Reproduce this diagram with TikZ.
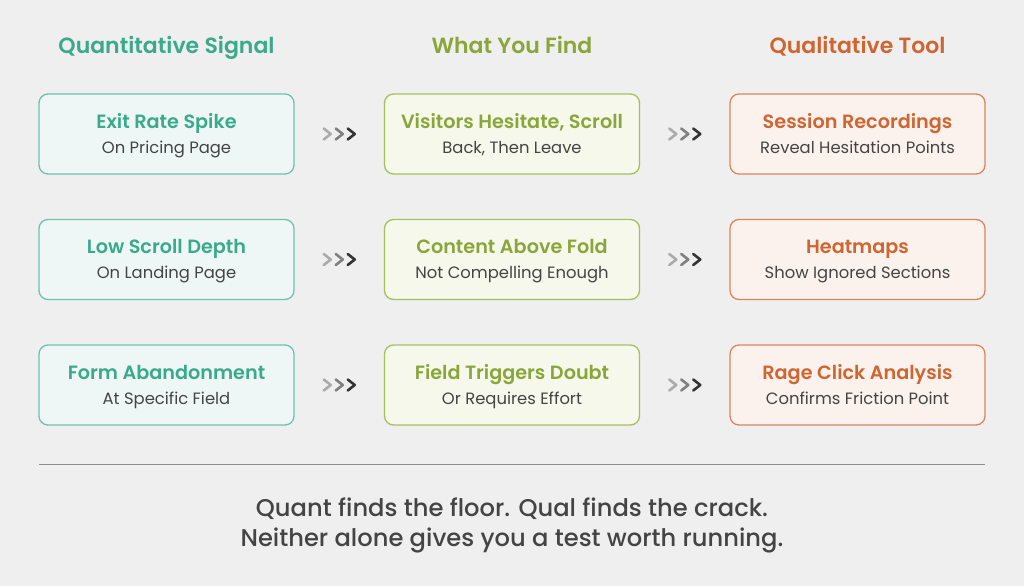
\documentclass[tikz,border=0pt]{standalone}
\usepackage{fontspec}
\setmainfont{Poppins}
\newfontfamily\semib{Poppins SemiBold}
\newfontfamily\medi{Poppins Medium}
\usetikzlibrary{calc}
\definecolor{bg}{HTML}{EFEFEF}
\definecolor{tealT}{HTML}{3AAA8C}
\definecolor{tealB}{HTML}{6CC3AD}
\definecolor{tealF}{HTML}{EEF7F5}
\definecolor{oliveT}{HTML}{8AA63A}
\definecolor{oliveB}{HTML}{A9BE5C}
\definecolor{oliveF}{HTML}{F6F8EC}
\definecolor{oranT}{HTML}{CF6530}
\definecolor{oranB}{HTML}{DA8560}
\definecolor{oranF}{HTML}{FBF2EE}
\definecolor{txt}{HTML}{444444}
\tikzset{
  card/.style={draw, line width=1.3pt, rounded corners=9pt, minimum width=255pt, minimum height=80pt, inner sep=0pt},
  tcard/.style={card, draw=tealB, fill=tealF},
  ocard/.style={card, draw=oliveB, fill=oliveF},
  rcard/.style={card, draw=oranB, fill=oranF},
  hdr/.style={font=\semib\fontsize{22}{26}\selectfont, anchor=base},
  ttl/.style={font=\semib\fontsize{19.2}{23}\selectfont, anchor=base},
  sub/.style={font=\fontsize{16.4}{20}\selectfont, text=txt, anchor=base},
  foot/.style={font=\medi\fontsize{24.2}{28}\selectfont, text=txt, anchor=base},
  chev/.style={line width=2.6pt, line cap=round, line join=round}
}
\newcommand{\chevrons}[1]{%
  \foreach \dx/\cc in {-12/black!33, 0/black!50, 12/black!80}{
    \draw[chev, draw=\cc] ($(#1)+(\dx-3.5,-5.5)$) -- ($(#1)+(\dx+3.5,0)$) -- ($(#1)+(\dx-3.5,5.5)$);
  }}
\begin{document}
\begin{tikzpicture}[x=1pt,y=-1pt]
\fill[bg] (0,0) rectangle (1024,586);
\useasboundingbox (0,0) rectangle (1024,586);
% headers
\node[hdr, text=tealT] (h1) at (166.5,54) {Quantitative Signal};
\node[hdr, text=oliveT] (h2) at (512,54) {What You Find};
\node[hdr, text=oranT] (h3) at (857.5,54) {Qualitative Tool};
% cards
\foreach \r/\y in {1/134, 2/259.5, 3/385}{
  \node[tcard] (a\r) at (166.5,\y) {};
  \node[ocard] (b\r) at (512,\y) {};
  \node[rcard] (c\r) at (857.5,\y) {};
}
% texts
\newcommand{\cardtext}[4]{%
  \node[ttl, text=#2] (#1t) at ($(#1)+(0,-6)$) {#3};
  \node[sub] (#1s) at ($(#1)+(0,19)$) {#4};}
\cardtext{a1}{tealT}{Exit Rate Spike}{On Pricing Page}
\cardtext{a2}{tealT}{Low Scroll Depth}{On Landing Page}
\cardtext{a3}{tealT}{Form Abandonment}{At Specific Field}
\cardtext{b1}{oliveT}{Visitors Hesitate, Scroll}{Back, Then Leave}
\cardtext{b2}{oliveT}{Content Above Fold}{Not Compelling Enough}
\cardtext{b3}{oliveT}{Field Triggers Doubt}{Or Requires Effort}
\cardtext{c1}{oranT}{Session Recordings}{Reveal Hesitation Points}
\cardtext{c2}{oranT}{Heatmaps}{Show Ignored Sections}
\cardtext{c3}{oranT}{Rage Click Analysis}{Confirms Friction Point}
% chevrons
\foreach \r in {1,2,3}{
  \coordinate (m\r) at ($(a\r.east)!0.5!(b\r.west)$);
  \coordinate (n\r) at ($(b\r.east)!0.5!(c\r.west)$);
  \chevrons{m\r}
  \chevrons{n\r}
}
% divider
\coordinate (l1) at (39,464);
\coordinate (l2) at (985,464);
\draw[black!45, line width=1pt] (l1) -- (l2);
% footer
\node[foot] (f1) at (512,516) {Quant finds the floor. Qual finds the crack.};
\node[foot] (f2) at (512,546) {Neither alone gives you a test worth running.};
\end{tikzpicture}
\end{document}
